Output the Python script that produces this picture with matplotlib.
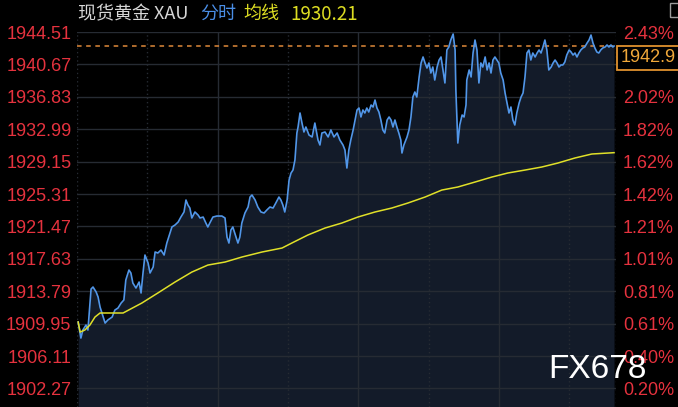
import matplotlib
matplotlib.use("Agg")
import matplotlib.pyplot as plt
from matplotlib.patches import Rectangle

# minutes since session open (06:00), 23h session
minutes = [3, 10, 15, 23, 28, 36, 41, 49, 54, 59, 67, 72, 79, 90, 97, 105, 113, 120, 125, 133,
           138, 143, 151, 159, 164, 169, 174, 182, 187, 195, 200, 207, 215, 223, 230, 238, 243, 251, 259, 266,
           274, 279, 284, 289, 294, 302, 310, 315, 323, 330, 335, 340, 348, 358, 371, 379, 384, 389, 394, 399,
           407, 412, 417, 422, 430, 438, 443, 448, 456, 463, 471, 479, 486, 494, 502, 509, 517, 522, 527, 532,
           538, 543, 548, 553, 558, 563, 566, 571, 576, 581, 586, 594, 602, 609, 617, 622, 627, 635, 643, 650,
           658, 666, 673, 681, 686, 691, 696, 701, 707, 712, 717, 722, 727, 732, 737, 742, 747, 753, 758, 763,
           768, 773, 778, 783, 788, 794, 799, 804, 809, 814, 819, 824, 829, 832, 837, 845, 850, 855, 860, 865,
           870, 876, 881, 886, 891, 896, 901, 906, 911, 916, 922, 927, 932, 937, 942, 947, 952, 957, 963, 968,
           970, 975, 980, 986, 991, 996, 998, 1004, 1009, 1014, 1019, 1024, 1029, 1034, 1039, 1045, 1050, 1055, 1060, 1065,
           1070, 1075, 1080, 1085, 1091, 1096, 1101, 1106, 1111, 1116, 1121, 1126, 1132, 1137, 1142, 1147, 1152, 1157, 1162, 1167,
           1173, 1178, 1183, 1188, 1193, 1198, 1203, 1208, 1214, 1219, 1224, 1229, 1234, 1239, 1244, 1249, 1254, 1260, 1265, 1270,
           1275, 1280, 1285, 1290, 1295, 1300, 1306, 1311, 1316, 1321, 1326, 1331, 1336, 1341, 1346, 1352, 1357, 1362, 1367, 1372,
           1375]
price = [1910.14, 1908.24, 1909.19, 1909.78, 1909.19, 1914.05, 1914.29, 1913.70, 1913.10, 1911.92,
         1910.73, 1910.02, 1910.38, 1910.73, 1911.56, 1911.80, 1912.39, 1912.75, 1915.12, 1916.30,
         1915.95, 1914.76, 1914.17, 1914.88, 1913.58, 1915.95, 1918.08, 1917.13, 1915.95, 1916.66,
         1918.44, 1918.32, 1918.67, 1918.08, 1919.50, 1920.69, 1921.40, 1921.64, 1921.99, 1922.58,
         1923.18, 1924.60, 1924.01, 1923.65, 1922.47, 1923.18, 1922.82, 1922.47, 1922.58, 1921.87,
         1921.40, 1921.87, 1922.58, 1922.70, 1922.70, 1922.47, 1920.21, 1919.50, 1921.04, 1921.40,
         1920.21, 1919.50, 1920.21, 1921.87, 1923.06, 1923.77, 1924.95, 1925.19, 1924.60, 1923.77,
         1923.18, 1923.06, 1923.41, 1923.77, 1923.65, 1924.24, 1924.95, 1924.60, 1924.01, 1923.18,
         1924.60, 1926.97, 1927.80, 1928.15, 1929.34, 1932.54, 1933.25, 1934.91, 1933.72, 1932.66,
         1933.25, 1932.30, 1932.07, 1933.72, 1931.71, 1931.12, 1932.54, 1932.66, 1932.07, 1932.90,
         1932.07, 1932.54, 1931.71, 1931.12, 1930.53, 1928.39, 1930.53, 1931.71, 1932.90, 1934.08,
         1935.27, 1935.50, 1934.44, 1935.27, 1934.91, 1935.50, 1935.03, 1935.86, 1935.62, 1936.45,
         1935.50, 1935.03, 1934.08, 1932.90, 1932.54, 1934.08, 1934.44, 1934.08, 1933.25, 1934.08,
         1933.25, 1932.54, 1931.71, 1930.17, 1931.12, 1932.07, 1932.90, 1934.44, 1936.81, 1937.40,
         1936.81, 1939.18, 1940.84, 1941.55, 1940.84, 1940.24, 1940.84, 1939.65, 1940.36, 1938.82,
         1940.36, 1941.19, 1941.55, 1940.01, 1938.47, 1942.38, 1942.73, 1943.56, 1944.27, 1942.38,
         1937.64, 1931.35, 1933.49, 1934.67, 1934.44, 1935.86, 1938.82, 1940.01, 1939.18, 1942.02,
         1943.56, 1942.38, 1938.47, 1940.84, 1940.36, 1941.55, 1940.01, 1940.84, 1939.65, 1941.19,
         1941.55, 1941.19, 1940.84, 1939.65, 1938.82, 1937.28, 1936.10, 1934.91, 1935.62, 1934.08,
         1933.49, 1934.91, 1936.10, 1936.81, 1937.28, 1939.18, 1942.02, 1942.38, 1941.19, 1942.02,
         1941.55, 1942.02, 1942.38, 1942.02, 1942.73, 1943.56, 1942.38, 1940.01, 1940.36, 1940.84,
         1941.19, 1940.84, 1940.36, 1940.60, 1940.60, 1940.95, 1941.78, 1942.38, 1942.14, 1941.78,
         1942.02, 1941.55, 1942.02, 1942.38, 1942.61, 1942.73, 1943.21, 1943.56, 1944.15, 1943.21,
         1942.61, 1942.14, 1942.02, 1942.38, 1942.61, 1942.73, 1942.97, 1942.73, 1942.97, 1942.73,
         1942.85]

avg_minutes = [3, 8, 20, 33, 46, 59, 72, 90, 118, 166, 207, 251, 294, 335, 379, 422, 474, 525, 550, 591,
               635, 678, 719, 763, 806, 847, 891, 934, 975, 1019, 1062, 1103, 1147, 1190, 1231, 1275, 1318, 1375]
avg_price = [1910.14, 1908.95, 1909.19, 1909.78, 1910.73, 1911.21, 1911.21, 1911.21, 1911.21, 1912.39,
             1913.58, 1914.88, 1916.06, 1916.89, 1917.25, 1917.84, 1918.44, 1918.91, 1919.50, 1920.45,
             1921.28, 1921.87, 1922.58, 1923.18, 1923.65, 1924.24, 1924.95, 1925.78, 1926.14, 1926.73,
             1927.32, 1927.80, 1928.15, 1928.51, 1928.98, 1929.58, 1930.05, 1930.21]

left_ticks = [1944.51, 1940.67, 1936.83, 1932.99, 1929.15, 1925.31, 1921.47, 1917.63,
              1913.79, 1909.95, 1906.11, 1902.27]
# second label sits under the current-price box in the original, so it is left blank
right_labels = ['2.43%', '', '2.02%', '1.82%', '1.62%', '1.42%', '1.21%', '1.01%',
                '0.81%', '0.61%', '0.40%', '0.20%']
last_price = 1942.9
avg_last = '1930.21'
session_len = 1380
y_bottom = 1900.07

RED = '#e5323e'
BLUE = '#5196e8'
YELLOW = '#e0e028'
GRID = '#262b33'

fig = plt.figure(figsize=(6.78, 4.07), dpi=100, facecolor='black')
ax = fig.add_axes([77 / 678, 0, 539 / 678, 375 / 407])
ax.set_facecolor('black')
ax.set_xlim(0, session_len)
ax.set_ylim(y_bottom, left_ticks[0])

ax.fill_between(minutes, price, y_bottom, color='#131b29', lw=0, zorder=1)

for v in left_ticks:
    ax.axhline(v, color=GRID, lw=1, zorder=2)
for k in range(0, session_len + 1, 180):
    solid = (k // 180) % 2 == 0 and k != 0
    ax.axvline(k, color=GRID, lw=1, ls='-' if solid else (0, (1, 2)), zorder=2)
ax.axvline(session_len, color=GRID, lw=1, ls=(0, (1, 2)), zorder=2)

ax.axhline(last_price, color='#e08a3a', lw=1.1, ls=(0, (3, 3)), zorder=3)
ax.plot(minutes, price, color=BLUE, lw=1.2, zorder=4)
ax.plot(avg_minutes, avg_price, color=YELLOW, lw=1.1, zorder=4)

for s in ax.spines.values():
    s.set_visible(False)
ax.set_xticks([])
ax.set_yticks(left_ticks)
ax.set_yticklabels([f'{v:.2f}' for v in left_ticks])
ax.tick_params(axis='y', length=0, pad=4, colors=RED, labelsize=13)
for t in ax.get_yticklabels():
    t.set_family('Liberation Sans')

ax2 = ax.twinx()
ax2.set_ylim(ax.get_ylim())
ax2.set_yticks(left_ticks)
ax2.set_yticklabels(right_labels)
ax2.tick_params(axis='y', length=0, pad=5, colors=RED, labelsize=13)
for t in ax2.get_yticklabels():
    t.set_family('Liberation Sans')
for s in ax2.spines.values():
    s.set_visible(False)

# current price box
fig.patches.append(Rectangle((617 / 678, 1 - 70 / 407), 70 / 678, 24 / 407, transform=fig.transFigure,
                             fc='black', ec='#e0922e', lw=1.3, zorder=9))
fig.text(621 / 678, 1 - 58 / 407, f'{last_price:.1f}', color='#f0a83a', fontsize=13,
         family='Liberation Sans', va='center', ha='left', zorder=10)

# header
cjk = ['Noto Sans CJK SC', 'DejaVu Sans']
fig.text(78 / 678, 1 - 14 / 407, '现货黄金 XAU', color='#d6d6d6', fontsize=13, family=cjk, va='center')
fig.text(200 / 678, 1 - 14 / 407, '分时', color='#4a8ee6', fontsize=13, family=cjk, va='center')
fig.text(243 / 678, 1 - 14 / 407, '均线', color='#dcdc22', fontsize=13, family=cjk, va='center')
fig.text(290 / 678, 1 - 14 / 407, avg_last, color='#dcdc22', fontsize=13.5, family=cjk, va='center')

fig.patches.append(Rectangle((670 / 678, 1 - 17 / 407), 12 / 678, 14 / 407, transform=fig.transFigure,
                             fill=False, ec='#9a9a9a', lw=1))

fig.text(548 / 678, 1 - 370 / 407, 'FX678', color='white', fontsize=24, family='Liberation Sans',
         va='center', ha='left', zorder=10)

fig.savefig('out.png', dpi=100, facecolor='black')
